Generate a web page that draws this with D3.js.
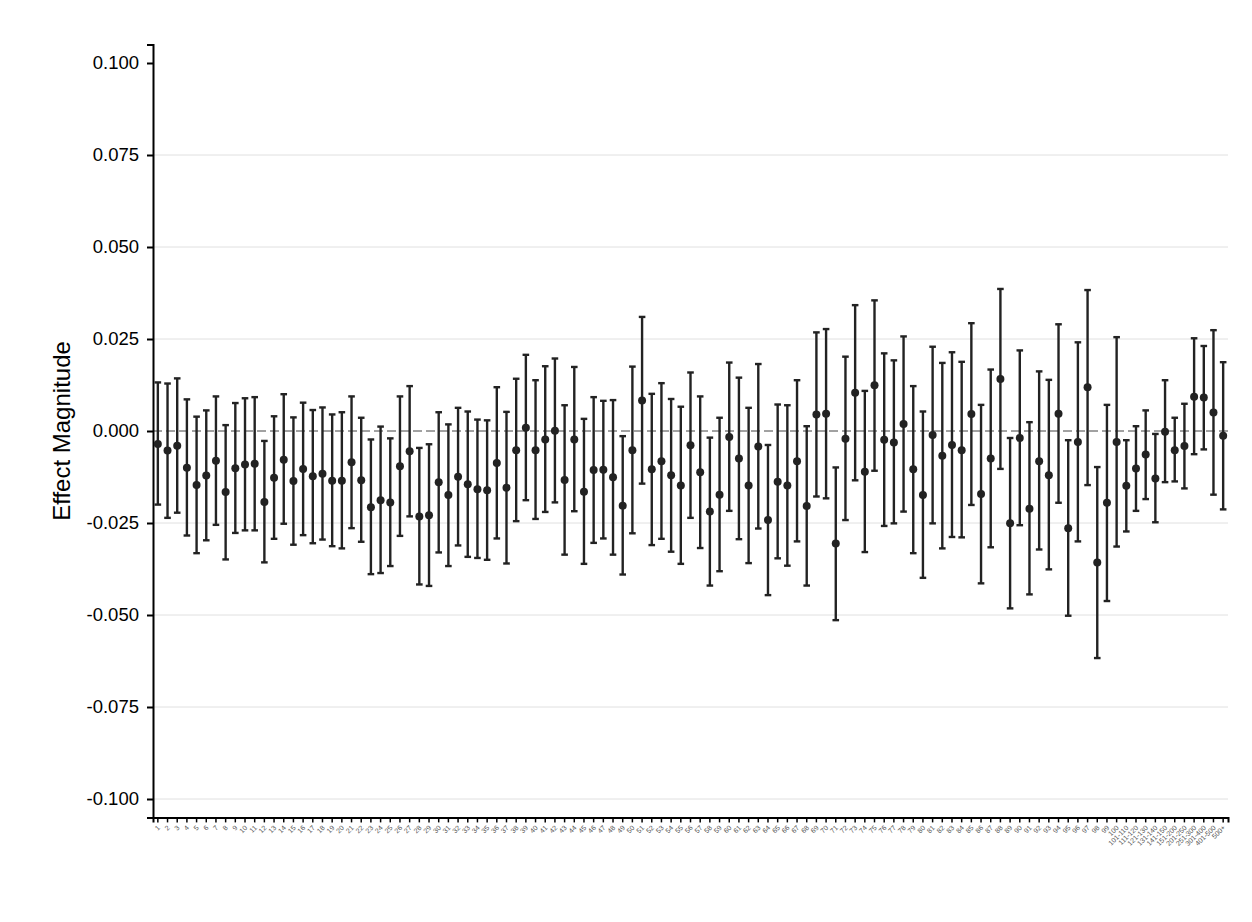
<!DOCTYPE html>
<html>
<head>
<meta charset="utf-8">
<script src="https://cdn.jsdelivr.net/npm/d3@7"></script>
<style>
  body { margin: 0; background: #fff; }
  svg { font-family: "Liberation Sans", Arial, sans-serif; }
</style>
</head>
<body>
<div id="chart"></div>
<script>
// categories: 1..100 then binned groups
const categories = [
  "1","2","3","4","5","6","7","8","9","10","11","12","13","14","15","16","17","18","19","20",
  "21","22","23","24","25","26","27","28","29","30","31","32","33","34","35","36","37","38","39","40",
  "41","42","43","44","45","46","47","48","49","50","51","52","53","54","55","56","57","58","59","60",
  "61","62","63","64","65","66","67","68","69","70","71","72","73","74","75","76","77","78","79","80",
  "81","82","83","84","85","86","87","88","89","90","91","92","93","94","95","96","97","98","99","100",
  "101-110","111-120","121-130","131-140","141-150","151-200","201-250","251-300","301-400","401-500","500+"
];

const estimate = [
  -0.0035,-0.0053,-0.0040,-0.0100,-0.0147,-0.0121,-0.0081,-0.0166,-0.0101,-0.0091,
  -0.0089,-0.0193,-0.0127,-0.0078,-0.0136,-0.0103,-0.0123,-0.0116,-0.0135,-0.0135,
  -0.0085,-0.0134,-0.0207,-0.0188,-0.0194,-0.0096,-0.0055,-0.0232,-0.0229,-0.0139,
  -0.0174,-0.0124,-0.0145,-0.0158,-0.0161,-0.0087,-0.0154,-0.0052,0.0009,-0.0052,
  -0.0023,0.0001,-0.0133,-0.0023,-0.0165,-0.0106,-0.0105,-0.0126,-0.0203,-0.0052,
  0.0083,-0.0104,-0.0082,-0.0120,-0.0148,-0.0039,-0.0112,-0.0219,-0.0173,-0.0016,
  -0.0075,-0.0148,-0.0042,-0.0242,-0.0138,-0.0148,-0.0082,-0.0204,0.0045,0.0047,
  -0.0306,-0.0021,0.0104,-0.0111,0.0124,-0.0024,-0.0031,0.0019,-0.0104,-0.0174,
  -0.0011,-0.0067,-0.0038,-0.0052,0.0046,-0.0171,-0.0075,0.0141,-0.0251,-0.0019,
  -0.0211,-0.0082,-0.0120,0.0047,-0.0264,-0.0030,0.0119,-0.0357,-0.0195,-0.0030,
  -0.0149,-0.0102,-0.0064,-0.0129,-0.0002,-0.0052,-0.0041,0.0093,0.0091,0.0050,-0.0013
];

const upper = [
  0.0132,0.0129,0.0143,0.0086,0.0039,0.0056,0.0094,0.0016,0.0076,0.0089,
  0.0092,-0.0027,0.0040,0.0100,0.0037,0.0077,0.0057,0.0064,0.0045,0.0051,
  0.0094,0.0036,-0.0023,0.0012,-0.0020,0.0094,0.0122,-0.0046,-0.0036,0.0051,
  0.0018,0.0063,0.0053,0.0031,0.0029,0.0119,0.0052,0.0142,0.0207,0.0138,
  0.0176,0.0197,0.0070,0.0174,0.0033,0.0092,0.0082,0.0084,-0.0014,0.0175,
  0.0310,0.0101,0.0130,0.0087,0.0066,0.0159,0.0094,-0.0018,0.0036,0.0186,
  0.0145,0.0063,0.0182,-0.0038,0.0072,0.0070,0.0138,0.0013,0.0268,0.0277,
  -0.0099,0.0202,0.0342,0.0109,0.0355,0.0211,0.0192,0.0257,0.0122,0.0053,
  0.0229,0.0185,0.0214,0.0188,0.0293,0.0071,0.0167,0.0386,-0.0019,0.0219,
  0.0024,0.0162,0.0139,0.0290,-0.0025,0.0241,0.0383,-0.0098,0.0071,0.0255,
  -0.0025,0.0013,0.0056,-0.0008,0.0138,0.0036,0.0074,0.0252,0.0231,0.0274,0.0187
];

const lower = [
  -0.0200,-0.0236,-0.0222,-0.0284,-0.0332,-0.0297,-0.0255,-0.0349,-0.0277,-0.0270,
  -0.0270,-0.0357,-0.0293,-0.0252,-0.0309,-0.0283,-0.0305,-0.0295,-0.0313,-0.0319,
  -0.0264,-0.0301,-0.0389,-0.0386,-0.0367,-0.0285,-0.0232,-0.0417,-0.0421,-0.0330,
  -0.0367,-0.0311,-0.0342,-0.0345,-0.0350,-0.0292,-0.0360,-0.0245,-0.0188,-0.0239,
  -0.0220,-0.0194,-0.0336,-0.0218,-0.0361,-0.0304,-0.0292,-0.0336,-0.0390,-0.0278,
  -0.0143,-0.0310,-0.0293,-0.0328,-0.0361,-0.0236,-0.0318,-0.0420,-0.0381,-0.0217,
  -0.0294,-0.0359,-0.0265,-0.0446,-0.0346,-0.0366,-0.0300,-0.0420,-0.0178,-0.0183,
  -0.0514,-0.0242,-0.0134,-0.0329,-0.0108,-0.0258,-0.0251,-0.0219,-0.0332,-0.0399,
  -0.0251,-0.0319,-0.0288,-0.0289,-0.0201,-0.0414,-0.0316,-0.0103,-0.0482,-0.0256,
  -0.0444,-0.0322,-0.0376,-0.0195,-0.0502,-0.0300,-0.0147,-0.0617,-0.0462,-0.0314,
  -0.0273,-0.0217,-0.0185,-0.0248,-0.0139,-0.0137,-0.0156,-0.0063,-0.0050,-0.0173,-0.0213
];

const yTicks = [-0.100, -0.075, -0.050, -0.025, 0.000, 0.025, 0.050, 0.075, 0.100];

const data = categories.map((c, i) => ({cat: c, est: estimate[i], lo: lower[i], hi: upper[i]}));

const W = 1252, H = 922;
const margin = {top: 44.6, right: 24, bottom: 104.6, left: 153};
const width = W - margin.left - margin.right,
      height = H - margin.top - margin.bottom;

const svg = d3.select("#chart")
    .append("svg")
    .attr("width", W)
    .attr("height", H)
    .append("g")
    .attr("transform", `translate(${margin.left},${margin.top})`);

const x = d3.scaleBand().domain(categories).range([0, width]);
const y = d3.scaleLinear().domain([-0.105, 0.105]).range([height, 0]);

// gridlines
svg.selectAll(".grid")
    .data(yTicks.filter(t => t !== 0 && t < 0.1))
    .enter()
    .append("line")
    .attr("x1", 0).attr("x2", width)
    .attr("y1", d => y(d)).attr("y2", d => y(d))
    .attr("stroke", "#e0e0e0")
    .attr("stroke-width", 1);

// zero reference line
svg.append("line")
    .attr("x1", 0).attr("x2", width)
    .attr("y1", y(0)).attr("y2", y(0))
    .attr("stroke", "#444")
    .attr("stroke-width", 1)
    .attr("stroke-dasharray", "9,4");

// y axis (plain hyphen for negatives, like the original)
const fmt = d => d3.format(".3f")(d).replace("\u2212", "-");
const yAxis = svg.append("g")
    .call(d3.axisLeft(y).tickValues(yTicks).tickFormat(fmt).tickSizeOuter(0).tickSize(6));
yAxis.select(".domain").attr("stroke", "#000").attr("stroke-width", 2);
yAxis.selectAll(".tick line").attr("stroke", "#000").attr("stroke-width", 2);
yAxis.selectAll(".tick text")
    .attr("x", -14)
    .style("font-size", "18.5px")
    .attr("fill", "#000");

// x axis
const xAxis = svg.append("g")
    .attr("transform", `translate(0,${height})`)
    .call(d3.axisBottom(x).tickSizeOuter(0).tickSize(5));
xAxis.select(".domain").attr("stroke", "#000").attr("stroke-width", 2);
xAxis.selectAll(".tick line").attr("stroke", "#000").attr("stroke-width", 1.5);
xAxis.selectAll(".tick text")
    .attr("transform", "translate(1,9) rotate(-45)")
    .attr("dy", "0.35em")
    .attr("y", 0)
    .style("text-anchor", "end")
    .style("font-size", "7px")
    .attr("fill", "#555");

// y label
svg.append("text")
    .attr("transform", `translate(${62 - margin.left},${y(0)}) rotate(-90)`)
    .attr("text-anchor", "middle")
    .attr("dy", "0.35em")
    .style("font-size", "24px")
    .attr("fill", "#000")
    .text("Effect Magnitude");

const cx = d => x(d.cat) + x.bandwidth() / 2;
const ink = "#222";

// error bars
const bars = svg.selectAll(".bar").data(data).enter().append("g");
bars.append("line")
    .attr("x1", cx).attr("x2", cx)
    .attr("y1", d => y(d.lo)).attr("y2", d => y(d.hi))
    .attr("stroke", ink).attr("stroke-width", 2.4);
bars.append("line")
    .attr("x1", d => cx(d) - 3.3).attr("x2", d => cx(d) + 3.3)
    .attr("y1", d => y(d.hi)).attr("y2", d => y(d.hi))
    .attr("stroke", ink).attr("stroke-width", 2.4);
bars.append("line")
    .attr("x1", d => cx(d) - 3.3).attr("x2", d => cx(d) + 3.3)
    .attr("y1", d => y(d.lo)).attr("y2", d => y(d.lo))
    .attr("stroke", ink).attr("stroke-width", 2.4);
bars.append("circle")
    .attr("cx", cx)
    .attr("cy", d => y(d.est))
    .attr("r", 4)
    .attr("fill", ink);
</script>
</body>
</html>
